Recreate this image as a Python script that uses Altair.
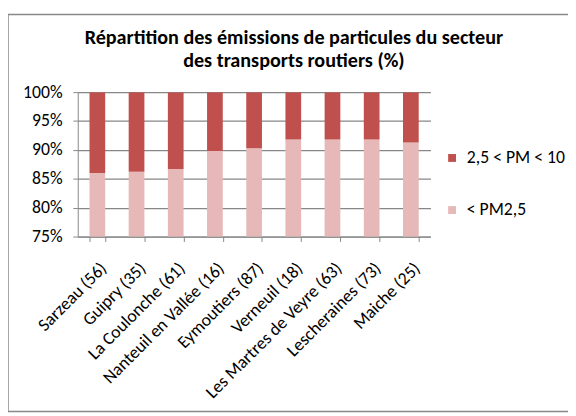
import altair as alt
import pandas as pd

cities = ["Sarzeau (56)", "Guipry (35)", "La Coulonche (61)", "Nanteuil en Vallée (16)",
          "Eymoutiers (87)", "Verneuil (18)", "Les Martres de Veyre (63)",
          "Lescheraines (73)", "Maiche (25)"]
pm25 = [86.0, 86.2, 86.7, 89.8, 90.3, 91.8, 91.8, 91.8, 91.3]
pm10 = [round(100 - v, 1) for v in pm25]
series = ["2,5 < PM < 10", "< PM2,5"]
colors = ["#C0504D", "#E6B9B8"]
title_lines = ["Répartition des émissions de particules du secteur",
               "des transports routiers (%)"]

rows = []
for c, a, b in zip(cities, pm25, pm10):
    rows.append({"ville": c, "classe": "< PM2,5", "val": a, "ordre": 0})
    rows.append({"ville": c, "classe": "2,5 < PM < 10", "val": b, "ordre": 1})
df = pd.DataFrame(rows)

FONT = "Carlito, Lato"
GRID = "#878787"

bars = alt.Chart(df).mark_bar(clip=True, size=16).encode(
    x=alt.X("ville:N", sort=cities, title=None,
            scale=alt.Scale(paddingInner=0.6, paddingOuter=0.3),
            axis=alt.Axis(labelAngle=-45, tickBand="extent", tickSize=5,
                          tickColor=GRID, domainColor=GRID, labelFontSize=18,
                          labelFont=FONT, labelColor="#000000", labelPadding=18,
                          labelLimit=400)),
    y=alt.Y("val:Q", stack="zero", title=None,
            scale=alt.Scale(domain=[75, 100], nice=False, zero=False),
            axis=alt.Axis(values=[75, 80, 85, 90, 95, 100],
                          labelExpr="datum.value + '%'", tickSize=5,
                          tickColor=GRID, domainColor=GRID, gridColor=GRID,
                          gridWidth=1.3, grid=True, labelFontSize=18,
                          labelFont=FONT, labelColor="#000000", labelPadding=11)),
    color=alt.Color("classe:N", scale=alt.Scale(domain=series, range=colors),
                    legend=alt.Legend(title=None, orient="none", legendX=372, legendY=58,
                                      symbolType="square", symbolSize=64,
                                      symbolStrokeWidth=0, labelFontSize=18,
                                      labelFont=FONT, labelColor="#000000",
                                      rowPadding=35, labelOffset=6)),
    order=alt.Order("ordre:Q"),
)

frame = alt.Chart(pd.DataFrame({"k": [0]})).mark_rect(
    fill=None, stroke="#888888", strokeWidth=1.5
).encode(x=alt.value(-71), x2=alt.value(600), y=alt.value(-79), y2=alt.value(325))

title = alt.Chart(pd.DataFrame({"k": [0]})).mark_text(
    text=title_lines, font=FONT, fontSize=20.5, fontWeight="bold", color="#000000",
    align="center", baseline="alphabetic", lineHeight=23
).encode(x=alt.value(220), y=alt.value(-49))

chart = alt.layer(bars, frame, title).properties(
    width=359, height=147,
    autosize=alt.AutoSizeParams(type="none"),
    padding={"left": 71, "top": 82, "right": 140, "bottom": 179},
).configure_view(stroke=None)

chart.save("out.html", embed_options={"renderer": "svg", "actions": False})
